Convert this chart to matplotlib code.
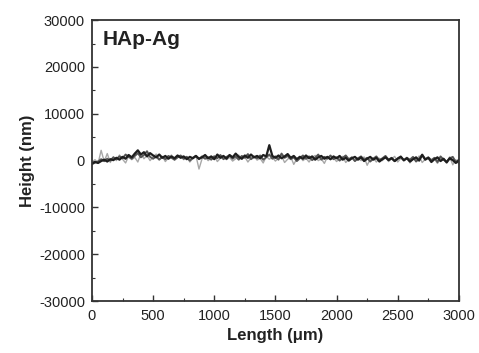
import numpy as np
import matplotlib
matplotlib.use("Agg")
import matplotlib.pyplot as plt
from matplotlib.ticker import MultipleLocator

plt.rcParams['font.family'] = ['Liberation Sans', 'DejaVu Sans']
plt.rcParams['axes.unicode_minus'] = False

# profile positions (um), one reading every 25 um
length = np.arange(0, 3001, 25)

# height profiles (nm)
height_a = [-600, -300, -500, -100, 200, -200, 300, 100, 600, 200,
            800, 400, 1200, 700, 1500, 2200, 1300, 1800, 900, 1600,
            1100, 700, 1300, 600, 1000, 400, 900, 500, 1100, 600,
            900, 300, 800, 500, 1000, 400, 700, 1200, 500, 900,
            300, 1300, 600, 1000, 400, 1200, 700, 1500, 800, 400,
            1100, 600, 1300, 700, 1000, 500, 1200, 900, 3300, 1000,
            600, 1100, 500, 900, 1400, 600, 1000, 300, 800, 400,
            1100, 500, 900, 200, 700, 1000, 400, 800, 300, 900,
            500, 1000, 200, 600, 0, 500, 800, 200, 700, -100,
            400, 800, 200, 600, -200, 300, 700, 100, 500, -100,
            400, 800, 100, 500, -200, 300, 700, 0, 1200, 200,
            600, -300, 300, 700, -100, 400, -400, 500, 100, -500,
            0]
height_b = [-800, -400, -200, 300, -100, 400, 0, 700, 300, 900,
            500, 1300, 800, 400, 1000, 1600, 700, 1200, 2000, 800,
            400, 900, 200, 800, 300, 1000, 600, 200, 700, 1100,
            400, 800, 0, 600, 1000, 300, 900, 400, 700, 200,
            900, 500, 1200, 300, 800, 1100, 400, 900, 200, 1000,
            600, 1400, 300, 800, 500, 1100, 200, 700, 1300, 400,
            900, 200, 1500, 600, 1000, 300, 700, -100, 500, 1100,
            400, 900, 100, 600, 1300, 200, 800, 400, 1100, 300,
            700, 0, 600, 1100, 300, 700, -100, 500, 900, 200,
            600, -200, 400, 900, 100, 500, 1000, 200, 600, -100,
            500, 900, 0, 600, 200, 800, -200, 400, 1300, 300,
            700, 100, 600, -300, 900, 200, -200, 500, 800, -300,
            200]
height_c = [-300, 200, -600, 2200, -200, 1500, -400, 800, 0, 1200,
            300, -500, 1000, 200, 700, -300, 1500, 400, 1100, 0,
            800, 1400, 300, 900, -200, 600, 1200, 100, 700, 1000,
            200, 900, -300, 500, 1100, -1800, 400, 800, 0, 600,
            1000, -200, 500, 900, 200, 700, -100, 400, 1200, 300,
            800, -300, 600, 1000, 100, 500, -500, 900, 300, 700,
            -100, 600, 1000, -400, 300, 800, -800, 400, 900, 0,
            500, -300, 700, 1100, 0, 400, -600, 800, 200, 600,
            -200, 500, 900, -400, 300, 700, -100, 500, 0, 800,
            -1000, 300, 600, -300, 500, 0, 800, -200, 400, 900,
            -300, 500, 100, 700, -500, 400, 0, 1000, -400, 300,
            700, -200, 400, -600, 600, 100, -300, 800, -900, 200,
            -700]

fig = plt.figure(figsize=(4.79, 3.53), dpi=100)
ax = fig.add_axes([0.192, 0.147, 0.766, 0.796])

ax.plot(length, height_c, color='#a8a8a8', lw=1.0)
ax.plot(length, height_b, color='#555555', lw=1.4)
ax.plot(length, height_a, color='#1e1e1e', lw=1.6)

ax.set_xlim(0, 3000)
ax.set_ylim(-30000, 30000)
ax.xaxis.set_major_locator(MultipleLocator(500))
ax.xaxis.set_minor_locator(MultipleLocator(250))
ax.yaxis.set_major_locator(MultipleLocator(10000))
ax.yaxis.set_minor_locator(MultipleLocator(5000))
ax.tick_params(which='both', direction='in', top=False, right=False,
               labelsize=10.5, color='#333333', labelcolor='#222222')
ax.tick_params(which='major', length=4, width=1)
ax.tick_params(axis='x', which='major', pad=6)
ax.tick_params(axis='y', which='major', pad=5)
ax.tick_params(which='minor', length=2, width=0.8)
for s in ax.spines.values():
    s.set_color('#333333')
    s.set_linewidth(1.3)

ax.set_xlabel('Length (\u03bcm)', fontsize=12, fontweight='bold', labelpad=3,
              color='#222222')
ax.set_ylabel('Height (nm)', fontsize=12, fontweight='bold', labelpad=3,
              color='#222222')
ax.text(0.03, 0.965, 'HAp-Ag', transform=ax.transAxes, fontsize=15,
        fontweight='bold', va='top', ha='left', color='#222222')

fig.savefig('out.png', dpi=100)
